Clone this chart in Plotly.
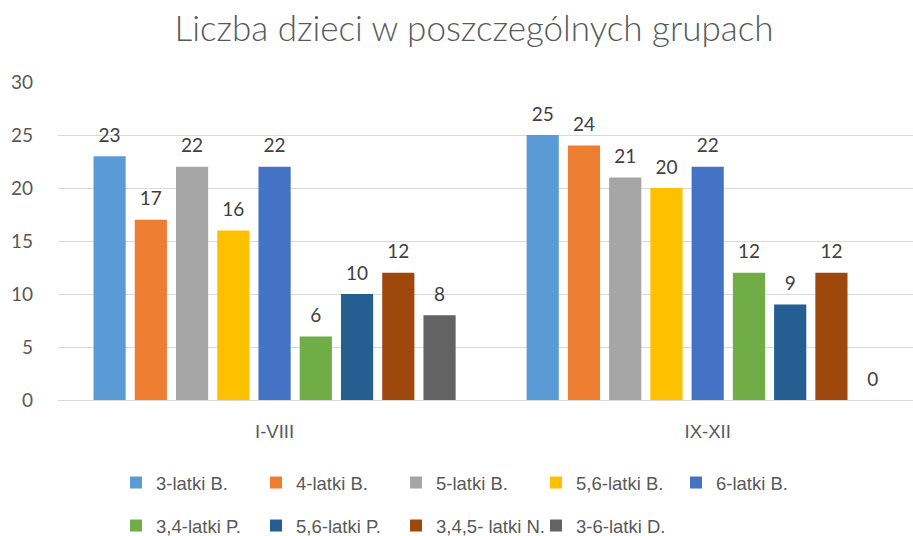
import plotly.graph_objects as go

categories = ["I-VIII", "IX-XII"]
series_names = ["3-latki B.", "4-latki B.", "5-latki B.", "5,6-latki B.", "6-latki B.",
                "3,4-latki P.", "5,6-latki P.", "3,4,5- latki N.", "3-6-latki D."]
values_I_VIII = [23, 17, 22, 16, 22, 6, 10, 12, 8]
values_IX_XII = [25, 24, 21, 20, 22, 12, 9, 12, 0]
colors = ["#5B9BD5", "#ED7D31", "#A5A5A5", "#FFC000", "#4472C4",
          "#70AD47", "#255E91", "#9E480E", "#636363"]
y_ticks = [0, 5, 10, 15, 20, 25, 30]

TXT = "#595959"
SANS = "Liberation Sans, Arial, sans-serif"
LATO = "Lato, Carlito, Calibri, sans-serif"

fig = go.Figure()
for i, name in enumerate(series_names):
    vals = [values_I_VIII[i], values_IX_XII[i]]
    fig.add_trace(go.Bar(
        x=categories, y=vals, name=name, marker_color=colors[i],
        marker_line_width=0, offsetgroup=str(i),
        legend="legend" if i < 5 else "legend2",
    ))
for i, name in enumerate(series_names):
    vals = [values_I_VIII[i], values_IX_XII[i]]
    fig.add_trace(go.Scatter(
        x=categories, y=vals, mode="markers+text", text=[str(v) for v in vals],
        textposition="top center", marker=dict(size=14, opacity=0),
        textfont=dict(family=LATO, size=19, color="#404040"),
        showlegend=False, hoverinfo="skip", offsetgroup=str(i), cliponaxis=False,
    ))

legend_common = dict(orientation="h", xref="container", yref="container",
                     x=116/913, xanchor="left", yanchor="middle", entrywidth=95,
                     font=dict(family=SANS, size=18.5, color=TXT),
                     bgcolor="rgba(0,0,0,0)")

fig.update_layout(
    width=913, height=536,
    margin=dict(l=58, r=0, t=82, b=136, autoexpand=False),
    paper_bgcolor="white", plot_bgcolor="white",
    barmode="group", bargap=0.143, bargroupgap=0.22,
    scattermode="group", scattergap=0.143,
    title=dict(text="Liczba dzieci w poszczególnych grupach",
               font=dict(family=LATO, size=35, color=TXT, weight=300),
               xref="container", x=474/913, xanchor="center",
               yref="container", y=1-29/536, yanchor="middle"),
    xaxis=dict(type="category", range=[-0.5, 1.474], showgrid=False,
               showline=False, ticks="", ticklabelstandoff=18,
               tickfont=dict(family=SANS, size=18.5, color=TXT)),
    yaxis=dict(range=[0, 30], tickvals=y_ticks, showgrid=True,
               gridcolor="#D9D9D9", gridwidth=1, zeroline=True,
               zerolinecolor="#D9D9D9", zerolinewidth=1, showline=False,
               ticks="", ticklabelstandoff=24,
               tickfont=dict(family=LATO, size=19, color=TXT)),
    legend=dict(legend_common, y=1-483/536),
    legend2=dict(legend_common, y=1-526/536),
    showlegend=True,
)

fig.write_html("out.html", config={"displayModeBar": False},
               post_script="document.body.style.margin='0';document.body.style.overflow='hidden';")
